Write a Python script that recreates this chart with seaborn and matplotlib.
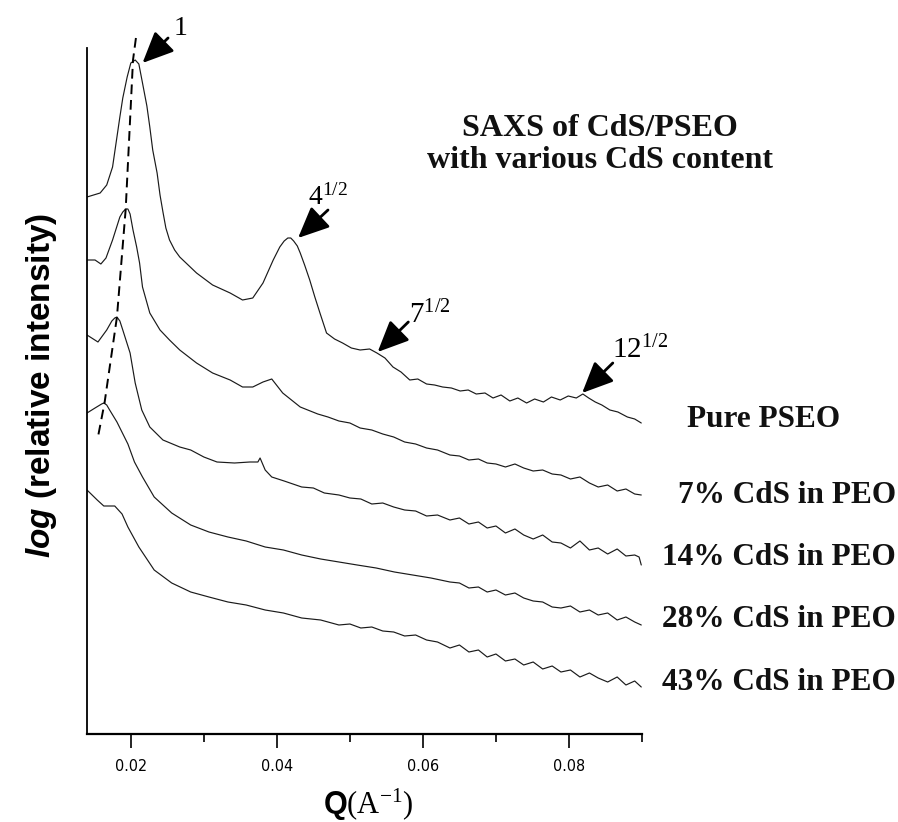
import numpy as np
import pandas as pd
import matplotlib
matplotlib.use("Agg")
import matplotlib.pyplot as plt
import seaborn as sns
from matplotlib.ticker import FixedLocator, FuncFormatter

# ---------------- data ----------------
series_names = ["Pure PSEO", "7% CdS in PEO", "14% CdS in PEO", "28% CdS in PEO", "43% CdS in PEO"]

q_pure = [0.0140, 0.0158, 0.0167, 0.0175, 0.0179, 0.0185, 0.0189, 0.0195, 0.0200, 0.0206, 0.0211, 0.0216, 0.0222, 0.0226, 0.0230, 0.0236, 0.0240, 0.0244, 0.0248, 0.0253, 0.0260, 0.0267, 0.0290, 0.0312, 0.0336, 0.0353, 0.0367, 0.0381, 0.0395, 0.0404, 0.0410, 0.0415, 0.0419, 0.0423, 0.0428, 0.0432, 0.0438, 0.0445, 0.0452, 0.0459, 0.0468, 0.0479, 0.0490, 0.0502, 0.0514, 0.0527, 0.0537, 0.0548, 0.0559, 0.0570, 0.0582, 0.0593, 0.0605, 0.0616, 0.0627, 0.0639, 0.0651, 0.0662, 0.0673, 0.0685, 0.0696, 0.0707, 0.0719, 0.0730, 0.0742, 0.0753, 0.0765, 0.0776, 0.0788, 0.0799, 0.0810, 0.0819, 0.0827, 0.0836, 0.0845, 0.0856, 0.0867, 0.0880, 0.0890, 0.0899]
y_pure = [5.37, 5.41, 5.49, 5.67, 5.87, 6.17, 6.36, 6.57, 6.71, 6.74, 6.70, 6.51, 6.28, 6.07, 5.84, 5.61, 5.39, 5.22, 5.06, 4.94, 4.84, 4.77, 4.61, 4.49, 4.41, 4.34, 4.36, 4.51, 4.74, 4.87, 4.93, 4.96, 4.96, 4.93, 4.88, 4.81, 4.69, 4.54, 4.37, 4.21, 4.01, 3.95, 3.91, 3.86, 3.84, 3.85, 3.81, 3.76, 3.67, 3.62, 3.54, 3.55, 3.50, 3.49, 3.47, 3.46, 3.43, 3.44, 3.40, 3.41, 3.36, 3.39, 3.33, 3.36, 3.31, 3.35, 3.32, 3.37, 3.34, 3.38, 3.36, 3.40, 3.36, 3.32, 3.29, 3.24, 3.22, 3.17, 3.15, 3.11]

q_7 = [0.0140, 0.0151, 0.0159, 0.0166, 0.0175, 0.0185, 0.0189, 0.0193, 0.0196, 0.0199, 0.0203, 0.0208, 0.0212, 0.0216, 0.0226, 0.0240, 0.0253, 0.0267, 0.0290, 0.0312, 0.0336, 0.0353, 0.0367, 0.0381, 0.0393, 0.0408, 0.0432, 0.0456, 0.0470, 0.0485, 0.0500, 0.0514, 0.0530, 0.0545, 0.0560, 0.0575, 0.0590, 0.0605, 0.0620, 0.0637, 0.0650, 0.0663, 0.0676, 0.0688, 0.0700, 0.0713, 0.0726, 0.0738, 0.0751, 0.0764, 0.0777, 0.0789, 0.0802, 0.0815, 0.0828, 0.0840, 0.0853, 0.0866, 0.0878, 0.0890, 0.0899]
y_7 = [4.74, 4.74, 4.70, 4.76, 4.94, 5.17, 5.22, 5.25, 5.25, 5.20, 5.04, 4.87, 4.71, 4.47, 4.21, 4.04, 3.94, 3.84, 3.71, 3.61, 3.54, 3.47, 3.47, 3.52, 3.55, 3.41, 3.27, 3.20, 3.17, 3.13, 3.11, 3.06, 3.04, 3.00, 2.97, 2.92, 2.90, 2.86, 2.84, 2.79, 2.78, 2.74, 2.75, 2.71, 2.70, 2.67, 2.70, 2.66, 2.63, 2.64, 2.60, 2.59, 2.55, 2.57, 2.51, 2.47, 2.49, 2.43, 2.45, 2.40, 2.39]

q_14 = [0.0140, 0.0155, 0.0167, 0.0174, 0.0178, 0.0181, 0.0185, 0.0189, 0.0199, 0.0206, 0.0215, 0.0226, 0.0244, 0.0267, 0.0282, 0.0300, 0.0318, 0.0342, 0.0363, 0.0374, 0.0377, 0.0384, 0.0393, 0.0410, 0.0434, 0.0450, 0.0465, 0.0485, 0.0500, 0.0515, 0.0530, 0.0545, 0.0560, 0.0575, 0.0590, 0.0605, 0.0620, 0.0637, 0.0650, 0.0663, 0.0676, 0.0688, 0.0700, 0.0713, 0.0726, 0.0738, 0.0751, 0.0764, 0.0777, 0.0789, 0.0802, 0.0815, 0.0828, 0.0840, 0.0853, 0.0866, 0.0878, 0.0890, 0.0896, 0.0899]
y_14 = [3.99, 3.92, 4.04, 4.13, 4.16, 4.17, 4.13, 4.04, 3.81, 3.51, 3.24, 3.07, 2.94, 2.87, 2.84, 2.77, 2.72, 2.71, 2.72, 2.72, 2.76, 2.64, 2.57, 2.53, 2.47, 2.46, 2.41, 2.39, 2.36, 2.35, 2.30, 2.31, 2.27, 2.24, 2.23, 2.18, 2.19, 2.14, 2.16, 2.10, 2.12, 2.06, 2.08, 2.01, 2.05, 1.99, 1.95, 1.99, 1.92, 1.91, 1.86, 1.93, 1.84, 1.86, 1.80, 1.85, 1.78, 1.79, 1.77, 1.69]

q_28 = [0.0140, 0.0151, 0.0160, 0.0163, 0.0167, 0.0171, 0.0181, 0.0196, 0.0205, 0.0216, 0.0232, 0.0256, 0.0282, 0.0307, 0.0333, 0.0358, 0.0384, 0.0409, 0.0434, 0.0460, 0.0485, 0.0510, 0.0536, 0.0561, 0.0586, 0.0611, 0.0637, 0.0650, 0.0663, 0.0676, 0.0688, 0.0700, 0.0713, 0.0726, 0.0738, 0.0751, 0.0764, 0.0777, 0.0789, 0.0802, 0.0815, 0.0828, 0.0840, 0.0853, 0.0866, 0.0878, 0.0890, 0.0899]
y_28 = [3.21, 3.26, 3.30, 3.31, 3.29, 3.24, 3.12, 2.90, 2.72, 2.57, 2.37, 2.21, 2.09, 2.02, 1.97, 1.93, 1.87, 1.84, 1.79, 1.75, 1.72, 1.69, 1.66, 1.62, 1.59, 1.56, 1.52, 1.51, 1.46, 1.47, 1.42, 1.44, 1.39, 1.41, 1.36, 1.33, 1.32, 1.27, 1.26, 1.28, 1.22, 1.24, 1.19, 1.21, 1.14, 1.17, 1.12, 1.09]

q_43 = [0.0140, 0.0154, 0.0163, 0.0178, 0.0188, 0.0196, 0.0211, 0.0232, 0.0256, 0.0282, 0.0307, 0.0333, 0.0358, 0.0384, 0.0409, 0.0434, 0.0460, 0.0485, 0.0500, 0.0515, 0.0530, 0.0545, 0.0560, 0.0575, 0.0590, 0.0605, 0.0620, 0.0637, 0.0650, 0.0663, 0.0676, 0.0688, 0.0700, 0.0713, 0.0726, 0.0738, 0.0751, 0.0764, 0.0777, 0.0789, 0.0802, 0.0815, 0.0828, 0.0840, 0.0853, 0.0866, 0.0878, 0.0890, 0.0899]
y_43 = [2.44, 2.34, 2.28, 2.28, 2.20, 2.07, 1.87, 1.64, 1.51, 1.42, 1.37, 1.32, 1.29, 1.24, 1.21, 1.16, 1.14, 1.09, 1.10, 1.06, 1.07, 1.03, 1.02, 0.98, 0.99, 0.94, 0.92, 0.86, 0.89, 0.82, 0.84, 0.77, 0.80, 0.73, 0.75, 0.69, 0.72, 0.65, 0.68, 0.62, 0.64, 0.57, 0.61, 0.56, 0.52, 0.57, 0.49, 0.53, 0.47]

# dashed guide through the first-order peaks
guide_q = [0.0207, 0.0203, 0.0193, 0.0181, 0.0164, 0.0155]
guide_y = [6.96, 6.74, 5.25, 4.17, 3.31, 2.97]

# peak-order annotations: label, text anchor (q, y), arrow tail (q, y), arrow tip (q, y)
ann_labels = [r"$\mathrm{1}$", r"$\mathrm{4^{1/2}}$", r"$\mathrm{7^{1/2}}$", r"$\mathrm{12^{1/2}}$"]
ann_text_q = [0.0258, 0.0442, 0.0581, 0.0859]
ann_text_y = [6.99, 5.29, 4.11, 3.76]
ann_tail_q = [0.0251, 0.0470, 0.0580, 0.0860]
ann_tail_y = [6.96, 5.24, 4.12, 3.71]
ann_tip_q = [0.0216, 0.0429, 0.0538, 0.0818]
ann_tip_y = [6.71, 4.96, 3.82, 3.41]
ann_sizes = [20, 20, 21, 21]

x_major = [0.02, 0.04, 0.06, 0.08]
x_minor = [0.03, 0.05, 0.07, 0.09]

# ---------------- build long table ----------------
frames = []
for name, q, y in zip(series_names, [q_pure, q_7, q_14, q_28, q_43], [y_pure, y_7, y_14, y_28, y_43]):
    frames.append(pd.DataFrame({"Q": q, "logI": y, "sample": name}))
df = pd.concat(frames, ignore_index=True)

# ---------------- style ----------------
sns.set_theme(style="white")
plt.rcParams["font.family"] = ["Liberation Serif", "DejaVu Serif"]
plt.rcParams["mathtext.fontset"] = "custom"
plt.rcParams["mathtext.rm"] = "Liberation Serif"
plt.rcParams["mathtext.it"] = "Liberation Sans:italic:bold"
plt.rcParams["mathtext.bf"] = "Liberation Sans:bold"

W, H = 898, 822
fig = plt.figure(figsize=(W / 100, H / 100), dpi=100)
fig.patch.set_facecolor("white")
ax = fig.add_axes([87 / W, (H - 734) / H, (642 - 87) / W, (734 - 48) / H])
ax.set_facecolor("white")

sns.lineplot(data=df, x="Q", y="logI", units="sample", estimator=None, sort=False,
             color="#1a1a1a", lw=0.85, ax=ax, legend=False)

ax.plot(guide_q, guide_y, color="black", lw=1.4, linestyle=(0, (5, 3)), clip_on=False)

for lab, tq, ty, aq, ay, pq, py, fs in zip(ann_labels, ann_text_q, ann_text_y, ann_tail_q,
                                          ann_tail_y, ann_tip_q, ann_tip_y, ann_sizes):
    ax.annotate("", xy=(pq, py), xytext=(aq, ay), annotation_clip=False,
                arrowprops=dict(arrowstyle="-|>,head_length=1.0,head_width=0.45",
                                color="black", lw=2.0, shrinkA=0, shrinkB=0,
                                mutation_scale=19))
    ax.text(tq, ty, lab, fontsize=fs, ha="left", va="baseline", color="black", clip_on=False)

ax.set_xlim(0.014, 0.09)
ax.set_ylim(0, 6.86)
ax.set_yticks([])
ax.xaxis.set_major_locator(FixedLocator(x_major))
ax.xaxis.set_minor_locator(FixedLocator(x_minor))
ax.xaxis.set_major_formatter(FuncFormatter(lambda v, p: f"{v:.2f}"))
ax.tick_params(axis="x", which="major", direction="out", length=10, width=1.2,
               color="black", pad=8, labelsize=11.5, labelcolor="black", bottom=True)
ax.tick_params(axis="x", which="minor", direction="out", length=5.5, width=1.2,
               color="black", bottom=True)
for t in ax.get_xticklabels():
    t.set_fontfamily(["Liberation Sans Narrow", "DejaVu Sans"])
    t.set_fontstretch("condensed")
ax.set_xlabel("")
ax.set_ylabel("")
for s in ["top", "right"]:
    ax.spines[s].set_visible(False)
ax.spines["bottom"].set_linewidth(1.6)
ax.spines["left"].set_linewidth(1.3)
ax.spines["bottom"].set_color("black")
ax.spines["left"].set_color("black")

# axis titles
fig.text(42 / W, 1 - 385 / H, r"$\mathit{log}$ (relative intensity)", rotation=90,
         ha="center", va="center", fontsize=24, fontweight="bold",
         family="Liberation Sans", color="black")
fig.text(368 / W, 1 - 805 / H, r"$\mathbf{Q}\mathrm{(A^{-1})}$", ha="center", va="center",
         fontsize=22, color="black")

# chart title
fig.text(600 / W, 1 - 129 / H, "SAXS of CdS/PSEO", ha="center", va="center",
         fontsize=23, fontweight="bold", color="#111111")
fig.text(600 / W, 1 - 160 / H, "with various CdS content", ha="center", va="center",
         fontsize=23, fontweight="bold", color="#111111")

# sample labels
label_x = [687, 896, 896, 896, 896]
label_ha = ["left", "right", "right", "right", "right"]
label_base = [427, 503, 565, 627, 690]
for name, lx, ha, lb in zip(series_names, label_x, label_ha, label_base):
    fig.text(lx / W, 1 - lb / H, name, ha=ha, va="baseline", fontsize=22.5,
             fontweight="bold", color="#111111")

fig.savefig("out.png", dpi=100, facecolor="white")
